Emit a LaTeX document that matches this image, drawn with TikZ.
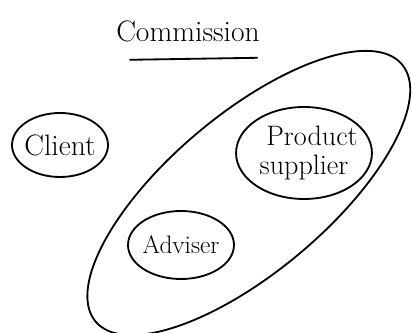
\documentclass[tikz,border=0pt]{standalone}
\usepackage{tikz}
\usetikzlibrary{shapes.geometric}
\usetikzlibrary{positioning}
\tikzset{
  party/.style={
    ellipse, draw, line width=1.3pt, inner sep=-4pt, align=center,
  },
  group/.style={
    ellipse, draw, line width=1.3pt, inner sep=0pt,
  },
}

\begin{document}
\begin{tikzpicture}

  \useasboundingbox (0,0) rectangle (10.3,8.325);

  % Define nodes
  \node[font=\fontsize{21}{24}\selectfont] (title) at (4.70,7.55) {Commission};
  \coordinate (ul_a) at (3.25,6.83);
  \coordinate (ul_b) at (6.43,6.88);

  \node[group, minimum width=10cm, minimum height=3.95cm, rotate=40] (firm) at (6.22,3.50) {};

  \node[party, minimum width=2.4cm, minimum height=1.6cm,
        font=\fontsize{21}{24}\selectfont] (client) at (1.50,4.70) {Client};
  \node[party, minimum width=2.9cm, minimum height=2.3cm,
        font=\fontsize{20}{21}\selectfont] (supplier) at (7.60,4.50) {\hspace*{0.4cm}Product\\supplier};
  \node[party, minimum width=2.65cm, minimum height=1.7cm,
        font=\fontsize{18}{20}\selectfont] (adviser) at (4.525,2.20) {Adviser};

  % Underline
  \draw[line width=1.3pt, line cap=round] (ul_a) -- (ul_b);

\end{tikzpicture}
\end{document}
